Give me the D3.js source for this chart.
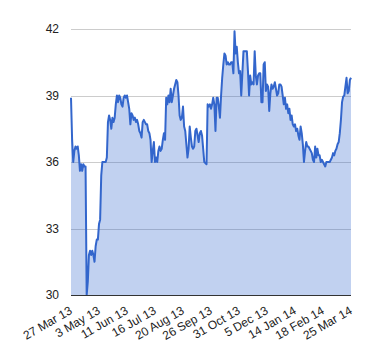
<!DOCTYPE html>
<html>
<head>
<meta charset="utf-8">
<script src="https://cdn.jsdelivr.net/npm/d3@7"></script>
<style>
  html, body { margin: 0; padding: 0; background: #fff; }
  svg { display: block; }
  text { font-family: Arial, "Liberation Sans", sans-serif; fill: #222; }
</style>
</head>
<body>
<svg id="chart" width="380" height="360"></svg>
<script>
// x-axis tick labels, one every 25 points
const tickLabels = ["27 Mar 13", "3 May 13", "11 Jun 13", "16 Jul 13", "20 Aug 13", "26 Sep 13",
  "31 Oct 13", "5 Dec 13", "14 Jan 14", "18 Feb 14", "25 Mar 14"];
const labelStep = 25;
// y-axis ticks
const yTicks = [30, 33, 36, 39, 42];
// series values (one per point)
const values = [
  38.9, 37.0, 36.0, 36.5, 36.7, 36.6, 36.7, 36.3, 35.6, 35.9,
  35.6, 35.9, 35.8, 35.8, 30.0, 30.6, 31.8, 32.0, 31.8, 32.0,
  31.8, 31.5, 32.2, 32.5, 32.5, 33.2, 33.4, 35.4, 36.0, 36.0,
  36.0, 36.0, 36.2, 37.8, 38.1, 37.9, 37.5, 38.0, 37.8, 38.0,
  38.6, 39.0, 38.7, 39.0, 38.9, 38.6, 38.5, 38.9, 39.0, 38.9,
  39.0, 38.7, 38.4, 37.7, 38.2, 38.1, 37.9, 38.0, 37.8, 37.9,
  37.7, 37.4, 37.3, 37.1, 37.8, 37.9, 37.8, 37.7, 37.7, 37.4,
  37.3, 37.0, 36.0, 36.5, 36.9, 36.0, 36.2, 36.0, 36.5, 36.7,
  36.5, 36.6, 37.0, 37.3, 37.0, 38.9, 38.6, 39.0, 38.7, 39.3,
  38.7, 39.0, 39.3, 39.5, 39.7, 39.6, 39.0, 38.1, 37.9, 38.0,
  38.5, 37.6, 37.4, 36.8, 36.2, 36.6, 37.6, 37.1, 36.7, 36.6,
  36.7, 37.4, 37.5, 37.2, 36.9, 37.3, 37.4, 37.2, 36.6, 36.0,
  35.95, 35.9, 38.6, 38.5, 38.6, 38.4, 38.6, 38.9, 38.6, 37.4,
  38.9, 38.9, 38.5, 38.0, 39.0, 39.8, 40.4, 40.9, 40.8, 40.4,
  40.5, 40.4, 40.4, 40.5, 40.5, 40.0, 41.9, 40.9, 41.2, 40.5,
  40.0, 40.1, 39.0, 40.0, 41.0, 41.0, 41.0, 41.0, 40.1, 39.0,
  39.9, 39.5, 39.6, 39.5, 41.0, 39.9, 39.5, 39.9, 40.0, 40.0,
  38.7, 38.7, 40.4, 40.5, 39.2, 39.5, 39.4, 38.3, 39.1, 39.5,
  39.3, 39.4, 39.6, 39.3, 39.0, 39.1, 39.5, 39.5, 39.4, 39.0,
  38.6, 38.9, 38.4, 38.6, 38.2, 38.4, 37.9, 38.1, 37.7, 37.6,
  37.7, 37.4, 37.5, 37.2, 37.0, 37.6, 37.3, 36.8, 36.0, 36.5,
  36.9, 36.7, 36.7, 36.6, 36.5, 36.4, 36.1, 36.0, 36.7, 36.2,
  36.6, 36.3, 36.3, 36.0, 36.1, 36.0, 35.9, 35.8, 36.0, 36.0,
  36.0, 36.0, 36.1, 36.2, 36.4, 36.3, 36.5, 36.6, 36.8, 36.9,
  37.3, 37.9, 38.7, 38.95, 39.0, 39.4, 39.8, 39.1, 39.2, 39.7, 39.8
];

const svg = d3.select("#chart");
const plotLeft = 71, plotRight = 351, plotTop = 29, plotBottom = 295;

const x = d3.scaleLinear().domain([0, values.length - 1]).range([plotLeft, plotRight]);
const y = d3.scaleLinear().domain([30, 42]).range([plotBottom, plotTop]);

// gridlines
svg.append("g")
  .selectAll("line")
  .data(yTicks.filter(t => t !== 30))
  .join("line")
  .attr("x1", plotLeft).attr("x2", plotRight)
  .attr("y1", d => Math.round(y(d)) + 0.5)
  .attr("y2", d => Math.round(y(d)) + 0.5)
  .attr("stroke", "#cccccc")
  .attr("stroke-width", 1);

// area
const area = d3.area()
  .x((d, i) => x(i))
  .y0(y(30))
  .y1(d => y(d));
svg.append("path")
  .datum(values)
  .attr("d", area)
  .attr("fill", "#3366cc")
  .attr("fill-opacity", 0.3);

// line
const line = d3.line()
  .x((d, i) => x(i))
  .y(d => y(d));
svg.append("path")
  .datum(values)
  .attr("d", line)
  .attr("fill", "none")
  .attr("stroke", "#3366cc")
  .attr("stroke-width", 2)
  .attr("stroke-linejoin", "round");

// baseline
svg.append("line")
  .attr("x1", plotLeft).attr("x2", plotRight)
  .attr("y1", Math.round(y(30)) + 0.5).attr("y2", Math.round(y(30)) + 0.5)
  .attr("stroke", "#333333")
  .attr("stroke-width", 1);

// y labels
const yAxis = d3.axisLeft(y).tickValues(yTicks).tickSize(0).tickPadding(0).tickFormat(d3.format("d"));
const gy = svg.append("g").attr("transform", `translate(59,0)`).call(yAxis);
gy.select(".domain").remove();
gy.selectAll("text")
  .attr("font-size", 12)
  .attr("font-family", "Arial, 'Liberation Sans', sans-serif")
  .attr("fill", "#222");

// x labels
svg.append("g")
  .selectAll("text")
  .data(tickLabels)
  .join("text")
  .attr("transform", (d, i) => `translate(${x(i * labelStep) + 2},313) rotate(-30)`)
  .attr("text-anchor", "end")
  .attr("font-size", 12)
  .text(d => d);
</script>
</body>
</html>
